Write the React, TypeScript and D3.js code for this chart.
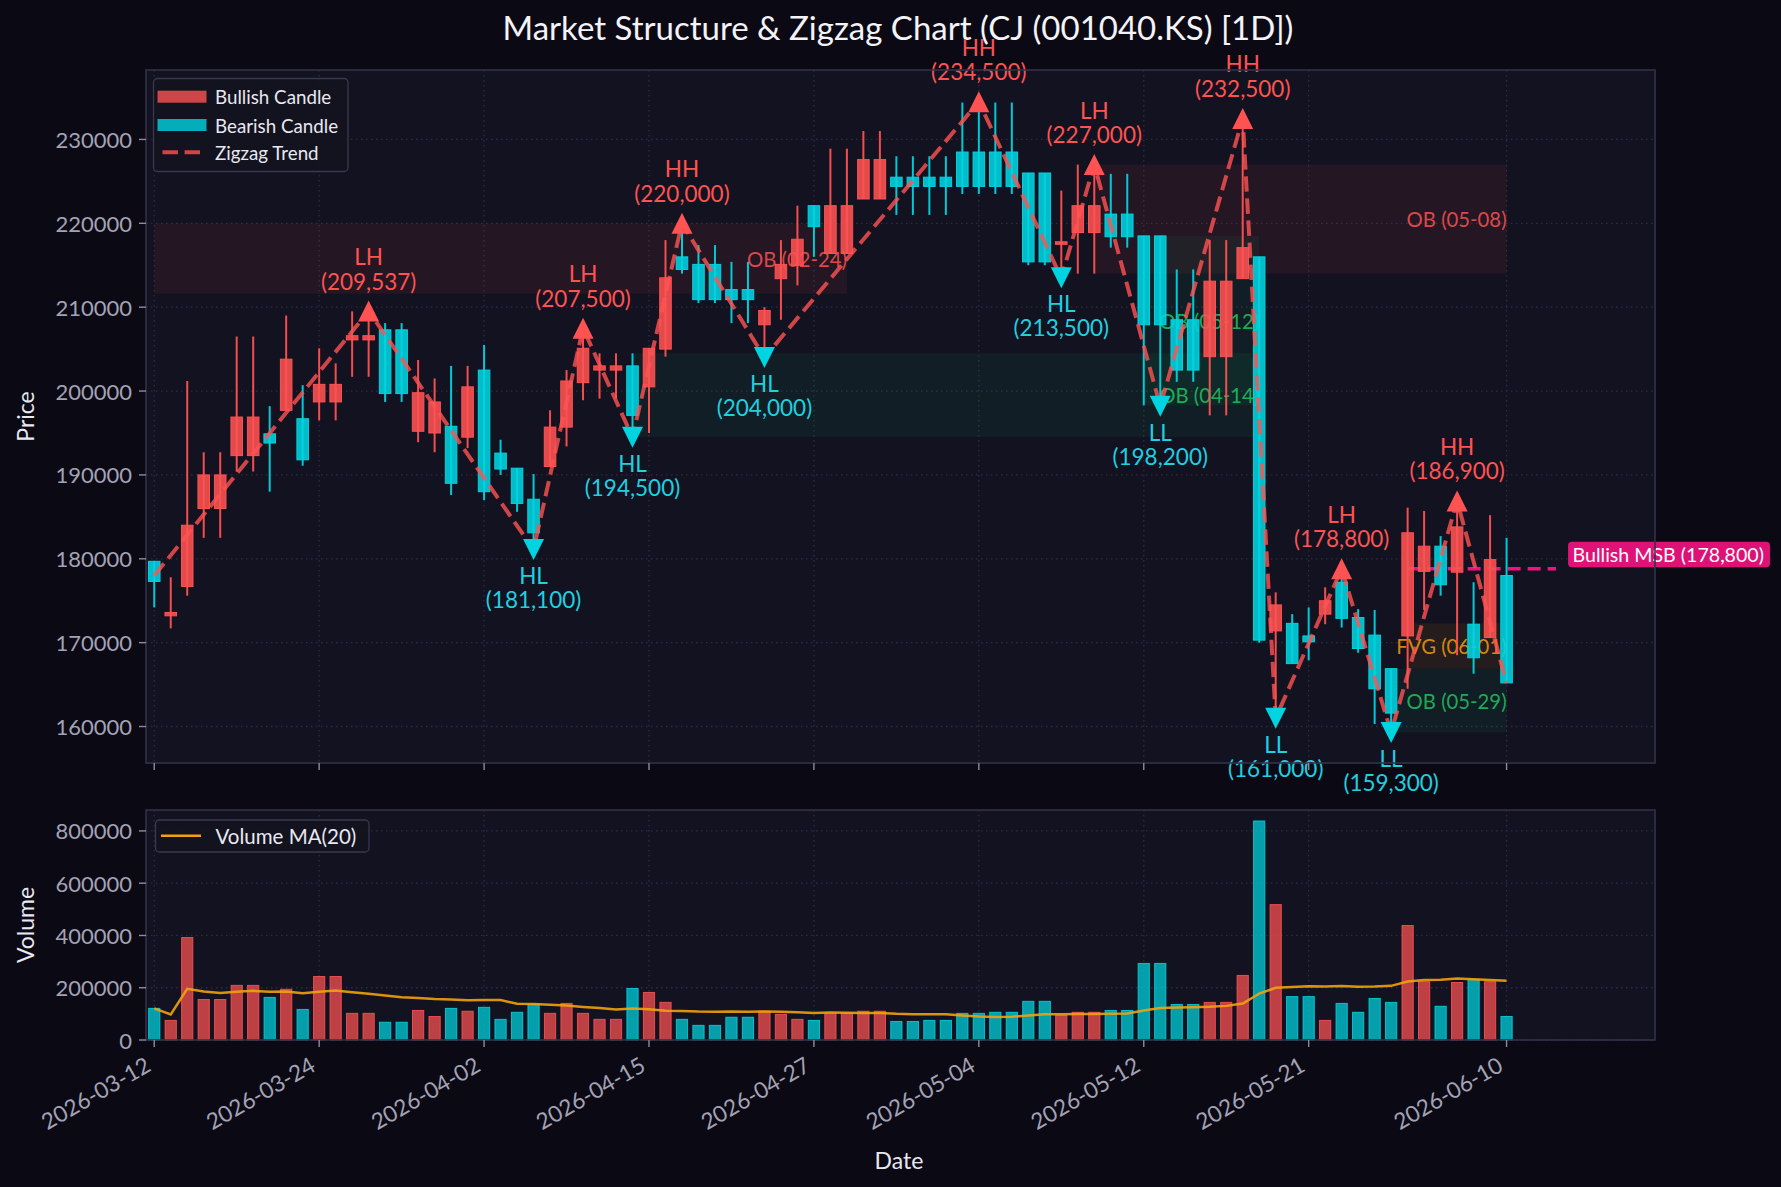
import React from 'react';
import * as d3 from 'd3';

// ---------------- DATA ----------------
const opens = [179700,173200,176700,186000,186000,192300,192300,194900,197700,196700,198700,198700,206100,206100,207300,207300,195200,195000,195800,194500,202500,192600,190800,187100,191000,195700,201000,202500,202500,203000,200500,205000,216000,215100,215100,212100,212100,207900,213400,215000,222100,216400,216400,222900,222900,225500,225500,225500,225500,228500,228500,228500,228500,226000,226000,217500,218900,218900,221100,221100,218500,218500,208500,208500,204100,204100,213400,216000,171400,172300,170800,173400,177200,173000,170900,166900,170800,178500,181500,178400,172200,170600,178000];
const highs = [179700,177800,201200,192700,192700,206500,206500,198200,209000,200700,205100,203300,209500,209537,208100,208100,203700,201500,203000,203000,205500,194200,190800,190100,197700,202500,207500,204500,204500,204500,205100,218000,220000,217400,217400,215400,215400,210000,218000,222100,222100,228900,228900,231000,231000,228000,228000,228000,228000,234400,234500,234400,234400,226000,226000,223900,227000,227000,225900,225900,218500,218500,214500,214500,218000,218000,232500,216000,176000,173400,174200,176600,178800,174000,173900,166900,186100,185700,182700,186900,177200,185200,182500];
const lows = [174200,171700,175600,182500,182500,190400,190400,188000,197700,191100,196500,196500,201700,201700,198700,198700,193900,192700,187600,193200,187000,190000,185600,181100,191000,193400,198900,199100,199100,194500,195000,204100,214000,210500,210500,208100,208100,204000,208500,212600,216000,216400,216400,222900,222900,221000,221000,221000,221000,223500,223500,223500,223500,215000,215000,213500,214000,214000,217100,217100,198300,198200,201100,201100,197100,197100,213400,170000,161000,167500,167900,172200,171800,168800,160300,159300,164500,173900,175600,168500,166300,170600,165200];
const closes = [177300,173600,184000,190000,190000,196900,196900,193800,203800,191800,200800,200800,206600,206600,199700,199700,199800,198700,189000,200500,188000,190700,186600,183100,195700,201200,205100,203000,203000,197100,205100,213500,214500,210900,210900,210900,210900,209600,215100,218100,219600,222100,222100,227600,227600,224400,224400,224400,224400,224400,224400,224400,224400,215400,215400,217800,222100,222100,218400,218400,207900,207900,202500,202500,213100,213100,217100,170300,174500,167500,170100,175000,172900,169300,164500,161600,183100,181500,176900,183800,168200,179900,165200];
const volumes = [121000,75000,392000,155000,155000,209000,209000,163000,194000,117000,243000,243000,102000,102000,68000,68000,113000,90000,121000,110000,125000,79000,106000,136000,102000,140000,102000,79000,79000,197000,182000,144000,79000,56000,56000,87000,87000,110000,98000,79000,75000,102000,102000,110000,110000,71000,71000,75000,75000,102000,102000,106000,106000,148000,148000,94000,106000,106000,113000,113000,293000,293000,136000,136000,144000,144000,247000,838000,518000,166000,166000,75000,140000,106000,159000,144000,438000,223000,129000,220000,232000,223000,90000];

const tickIndex = [0, 10, 20, 30, 40, 50, 60, 70, 82];
const tickLabels = ['2026-03-12','2026-03-24','2026-04-02','2026-04-15','2026-04-27','2026-05-04','2026-05-12','2026-05-21','2026-06-10'];
const priceTicks = [160000,170000,180000,190000,200000,210000,220000,230000];
const volumeTicks = [0,200000,400000,600000,800000];

const zigzagIndex = [0,13,23,26,29,32,37,50,55,57,61,66,68,72,75,79,82];
const zigzagValue = [178000,209537,181100,207500,194500,220000,204000,234500,213500,227000,198200,232500,161000,178800,159300,186900,165200];

const pivotIndex = [13,23,26,29,32,37,50,55,57,61,66,68,72,75,79];
const pivotValue = [209537,181100,207500,194500,220000,204000,234500,213500,227000,198200,232500,161000,178800,159300,186900];
const pivotLabel = ['LH','HL','LH','HL','HH','HL','HH','HL','LH','LL','HH','LL','LH','LL','HH'];

const zoneLabels = ['OB (02-24)','OB (04-14)','OB (05-12)','OB (05-08)','FVG (06-01)','OB (05-29)'];
const zoneKinds = ['bear','bull','bull','bear','fvg','bull'];
const zoneStart = [0,29,60,57,76,75];
const zoneEnd = [42,67,67,82,82,82];
const zoneLow = [211600,194500,198300,214000,166900,159300];
const zoneHigh = [220000,204500,218500,227000,172300,166900];

const msbValue = 178800;
const msbStart = 76;
const msbEnd = 85;
const msbTextIndex = 86;
const msbLabel = 'Bullish MSB (178,800)';

const titleText = 'Market Structure & Zigzag Chart (CJ (001040.KS) [1D])';

// ---------------- STYLE ----------------
const W = 1781, H = 1187;
const FONT = "Lato, 'Noto Sans', sans-serif";
const BG = '#0b0a14';
const AX_BG = '#131220';
const GRID = '#2e2c44';
const SPINE = '#33314a';
const TICK_TXT = '#a4a2b6';
const RED = '#ff5252';
const TEAL = '#00d4e0';
const LABEL_TEAL = '#1fd0e0';
const GREEN = '#22c55e';
const ORANGE = '#f59e0b';
const PINK = '#f0127f';
const MA_COL = '#f2a20c';

const L = 146, R = 1655;
const PT = 70, PB = 763;
const VT = 810, VB = 1040;

export default function App() {
  const x = d3.scaleLinear().domain([-0.5, 91]).range([L, R]);
  const yP = d3.scaleLinear().domain([155650, 238280]).range([PB, PT]);
  const yV = d3.scaleLinear().domain([0, 880000]).range([VB, VT]);
  const step = x(1) - x(0);
  const bw = step * 0.7;
  const vbw = step * 0.68;
  const fmt = d3.format(',');

  const ma: number[] = volumes.map((_, i) => d3.mean(volumes.slice(Math.max(0, i - 19), i + 1)) as number);
  const maLine = d3.line<number>().x((_, i) => x(i)).y((d) => yV(d))(ma) || '';
  const zzLine = d3.line<number>().x((_, k) => x(zigzagIndex[k])).y((d) => yP(d))(zigzagValue) || '';

  const zoneFill = (k: string) => (k === 'bear' ? RED : k === 'bull' ? '#00e676' : '#ff9800');
  const zoneOp = (k: string) => (k === 'bear' ? 0.08 : k === 'bull' ? 0.06 : 0.08);
  const zoneText = (k: string) => (k === 'bear' ? RED : k === 'bull' ? GREEN : ORANGE);

  const tri = (cx: number, cy: number, up: boolean) => {
    const s = 10.5;
    return up
      ? `M${cx},${cy - s} L${cx + s},${cy + s} L${cx - s},${cy + s} Z`
      : `M${cx},${cy + s} L${cx + s},${cy - s} L${cx - s},${cy - s} Z`;
  };

  const TICK_FS = 22;
  const ANN_FS = 22.5;
  const LABEL_FS = 23;

  return (
    <svg width={W} height={H} style={{ position: 'absolute', left: 0, top: 0, display: 'block' }} fontFamily={FONT}>
      <rect x={0} y={0} width={W} height={H} fill={BG} />
      {/* title */}
      <text x={898} y={27} fill="#f3f3f8" fontSize={33} textAnchor="middle" dominantBaseline="central">{titleText}</text>

      {/* ---------- PRICE PANEL ---------- */}
      <rect x={L} y={PT} width={R - L} height={PB - PT} fill={AX_BG} />
      {priceTicks.map((t) => (
        <line key={'gy' + t} x1={L} x2={R} y1={yP(t)} y2={yP(t)} stroke={GRID} strokeWidth={1.3} strokeDasharray="1.5 3.5" />
      ))}
      {tickIndex.map((t) => (
        <line key={'gx' + t} x1={x(t)} x2={x(t)} y1={PT} y2={PB} stroke={GRID} strokeWidth={1.3} strokeDasharray="1.5 3.5" />
      ))}

      {/* zones */}
      {zoneLabels.map((lab, k) => (
        <g key={'z' + k}>
          <rect x={x(zoneStart[k])} y={yP(zoneHigh[k])} width={x(zoneEnd[k]) - x(zoneStart[k])} height={yP(zoneLow[k]) - yP(zoneHigh[k])}
            fill={zoneFill(zoneKinds[k])} fillOpacity={zoneOp(zoneKinds[k])} />
          <text x={x(zoneEnd[k])} y={yP((zoneLow[k] + zoneHigh[k]) / 2)} fill={zoneText(zoneKinds[k])} fillOpacity={0.85}
            fontSize={20.3} textAnchor="end" dominantBaseline="central">{lab}</text>
        </g>
      ))}

      {/* MSB line */}
      <line x1={x(msbStart)} x2={x(msbEnd)} y1={yP(msbValue)} y2={yP(msbValue)} stroke={PINK} strokeWidth={3.5} strokeDasharray="13 7" />

      {/* candles */}
      {closes.map((c, i) => {
        const o = opens[i];
        const up = c >= o;
        const col = up ? RED : TEAL;
        const top = yP(Math.max(o, c));
        const bot = yP(Math.min(o, c));
        const h = Math.max(bot - top, 1.5);
        return (
          <g key={'c' + i}>
            <line x1={x(i)} x2={x(i)} y1={yP(highs[i])} y2={yP(lows[i])} stroke={col} strokeWidth={2} strokeOpacity={0.95} />
            <rect x={x(i) - bw / 2} y={top} width={bw} height={h} fill={col} fillOpacity={0.88} stroke={col} strokeWidth={1} />
          </g>
        );
      })}

      {/* zigzag */}
      <path d={zzLine} fill="none" stroke={RED} strokeOpacity={0.8} strokeWidth={4} strokeDasharray="15.4 6.7" />

      {/* pivots */}
      {pivotIndex.map((pi, k) => {
        const isHigh = pivotLabel[k].endsWith('H');
        const cx = x(pi);
        const cy = yP(pivotValue[k]);
        const col = isHigh ? RED : TEAL;
        const tcol = isHigh ? RED : LABEL_TEAL;
        return (
          <g key={'p' + k}>
            <path d={tri(cx, cy, isHigh)} fill={col} />
            <text x={cx} y={isHigh ? cy - 54.5 : cy + 26} fill={tcol} fontSize={ANN_FS} textAnchor="middle" dominantBaseline="central">{pivotLabel[k]}</text>
            <text x={cx} y={isHigh ? cy - 30 : cy + 50} fill={tcol} fontSize={ANN_FS} textAnchor="middle" dominantBaseline="central">{'(' + fmt(pivotValue[k]) + ')'}</text>
          </g>
        );
      })}

      {/* MSB label */}
      <g>
        <rect x={x(msbTextIndex) - 4.5} y={yP(msbValue) - 27} width={202} height={25.5} rx={4} fill={PINK} fillOpacity={0.92} />
        <text x={x(msbTextIndex)} y={yP(msbValue) - 14} fill="#ffffff" fontSize={19.6} dominantBaseline="central">{msbLabel}</text>
      </g>

      {/* price spines & ticks */}
      <rect x={L} y={PT} width={R - L} height={PB - PT} fill="none" stroke={SPINE} strokeWidth={1.6} />
      {priceTicks.map((t) => (
        <g key={'ty' + t}>
          <line x1={L - 7} x2={L} y1={yP(t)} y2={yP(t)} stroke="#8c8aa2" strokeWidth={1.4} />
          <text x={L - 14} y={yP(t)} fill={TICK_TXT} fontSize={TICK_FS} textAnchor="end" dominantBaseline="central">{t}</text>
        </g>
      ))}
      {tickIndex.map((t) => (
        <line key={'tx' + t} x1={x(t)} x2={x(t)} y1={PB} y2={PB + 7} stroke="#8c8aa2" strokeWidth={1.4} />
      ))}
      <text x={25} y={(PT + PB) / 2} fill="#e8e8f0" fontSize={LABEL_FS} textAnchor="middle" dominantBaseline="central"
        transform={`rotate(-90 25 ${(PT + PB) / 2})`}>Price</text>

      {/* price legend */}
      <g>
        <rect x={153.5} y={78.5} width={194.5} height={93} rx={4} fill="#14131f" fillOpacity={0.92} stroke="#3a3850" strokeWidth={1.3} />
        <rect x={157.5} y={90.7} width={49} height={12} fill={RED} fillOpacity={0.8} />
        <text x={215} y={96.7} fill="#e8e8f0" fontSize={18.75} dominantBaseline="central">Bullish Candle</text>
        <rect x={157.5} y={119} width={49} height={12} fill={TEAL} fillOpacity={0.8} />
        <text x={215} y={125} fill="#e8e8f0" fontSize={18.75} dominantBaseline="central">Bearish Candle</text>
        <line x1={162.5} x2={201} y1={152.3} y2={152.3} stroke={RED} strokeOpacity={0.8} strokeWidth={4} strokeDasharray="15.4 6.7" />
        <text x={215} y={152.3} fill="#e8e8f0" fontSize={18.75} dominantBaseline="central">Zigzag Trend</text>
      </g>

      {/* ---------- VOLUME PANEL ---------- */}
      <rect x={L} y={VT} width={R - L} height={VB - VT} fill={AX_BG} />
      {volumeTicks.map((t) => (
        <line key={'vgy' + t} x1={L} x2={R} y1={yV(t)} y2={yV(t)} stroke={GRID} strokeWidth={1.3} strokeDasharray="1.5 3.5" />
      ))}
      {tickIndex.map((t) => (
        <line key={'vgx' + t} x1={x(t)} x2={x(t)} y1={VT} y2={VB} stroke={GRID} strokeWidth={1.3} strokeDasharray="1.5 3.5" />
      ))}
      {volumes.map((v, i) => {
        const col = closes[i] >= opens[i] ? RED : TEAL;
        return (
          <rect key={'v' + i} x={x(i) - vbw / 2} y={yV(v)} width={vbw} height={yV(0) - yV(v)} fill={col} fillOpacity={0.72}
            stroke={col} strokeOpacity={0.85} strokeWidth={1} />
        );
      })}
      <path d={maLine} fill="none" stroke={MA_COL} strokeWidth={2.5} strokeOpacity={0.9} />
      <rect x={L} y={VT} width={R - L} height={VB - VT} fill="none" stroke={SPINE} strokeWidth={1.6} />
      {volumeTicks.map((t) => (
        <g key={'vty' + t}>
          <line x1={L - 7} x2={L} y1={yV(t)} y2={yV(t)} stroke="#8c8aa2" strokeWidth={1.4} />
          <text x={L - 14} y={yV(t)} fill={TICK_TXT} fontSize={TICK_FS} textAnchor="end" dominantBaseline="central">{t}</text>
        </g>
      ))}
      {tickIndex.map((t, k) => (
        <g key={'vtx' + t}>
          <line x1={x(t)} x2={x(t)} y1={VB} y2={VB + 7} stroke="#8c8aa2" strokeWidth={1.4} />
          <text x={x(t) - 2} y={VB + 30} fill={TICK_TXT} fontSize={22.5} textAnchor="end"
            transform={`rotate(-30 ${x(t) - 2} ${VB + 30})`}>{tickLabels[k]}</text>
        </g>
      ))}
      <text x={25} y={(VT + VB) / 2} fill="#e8e8f0" fontSize={LABEL_FS} textAnchor="middle" dominantBaseline="central"
        transform={`rotate(-90 25 ${(VT + VB) / 2})`}>Volume</text>
      <text x={899} y={1160} fill="#e8e8f0" fontSize={LABEL_FS} textAnchor="middle" dominantBaseline="central">Date</text>

      {/* volume legend */}
      <g>
        <rect x={155.5} y={820} width={213.5} height={32} rx={4} fill="#14131f" fillOpacity={0.92} stroke="#3a3850" strokeWidth={1.3} />
        <line x1={161} x2={201} y1={835.7} y2={835.7} stroke={MA_COL} strokeWidth={2.5} />
        <text x={215.5} y={835.7} fill="#e8e8f0" fontSize={20.5} dominantBaseline="central">Volume MA(20)</text>
      </g>
    </svg>
  );
}
